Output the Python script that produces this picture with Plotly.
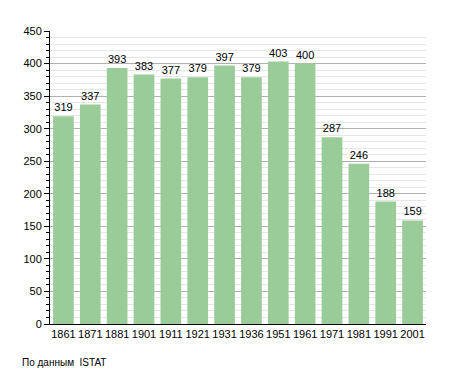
import plotly.graph_objects as go

years = ["1861", "1871", "1881", "1901", "1911", "1921", "1931", "1936", "1951", "1961", "1971", "1981", "1991", "2001"]
population = [319, 337, 393, 383, 377, 379, 397, 379, 403, 400, 287, 246, 188, 159]
y_ticks = [0, 50, 100, 150, 200, 250, 300, 350, 400, 450]
source_note = "По данным  ISTAT"

# the page body adds an 8px offset; compensate in size/margins
OFF = 8
W, H = 455 - OFF, 373 - OFF
L, T, R, B = 50 - OFF, 31 - OFF, 29, 49
plot_w = W - L - R
plot_h = H - T - B

fig = go.Figure(go.Bar(
    x=years, y=population,
    text=[str(v) for v in population], textposition="outside",
    textfont=dict(size=11, color="black", family="Liberation Sans, Arial"),
    marker=dict(color="#99cc99", line=dict(width=0)),
    cliponaxis=False,
))

fig.update_layout(
    width=W, height=H,
    margin=dict(l=L, r=R, t=T, b=B),
    paper_bgcolor="white", plot_bgcolor="white",
    bargap=0.23,
    showlegend=False,
    font=dict(family="Liberation Sans, Arial", size=11, color="black"),
    xaxis=dict(
        type="category", showline=True, linecolor="black", linewidth=1,
        ticks="", tickfont=dict(size=11), showgrid=False,
    ),
    yaxis=dict(
        range=[0, 450], tickvals=y_ticks, showline=True, linecolor="black", linewidth=1,
        ticks="outside", ticklen=5, tickcolor="black", tickfont=dict(size=11),
        showgrid=True, gridcolor="#b0b0b0", gridwidth=1, zeroline=False,
        minor=dict(dtick=10, showgrid=True, gridcolor="#e6e6e6", gridwidth=1,
                   ticks="outside", ticklen=3, tickcolor="black"),
        layer="below traces",
    ),
    annotations=[dict(
        text=source_note, xref="paper", yref="paper",
        x=(20 - 50) / plot_w, y=-(362 - 324) / plot_h,
        showarrow=False, font=dict(size=10), xanchor="left", yanchor="middle",
    )],
)
fig.write_html("out.html")
